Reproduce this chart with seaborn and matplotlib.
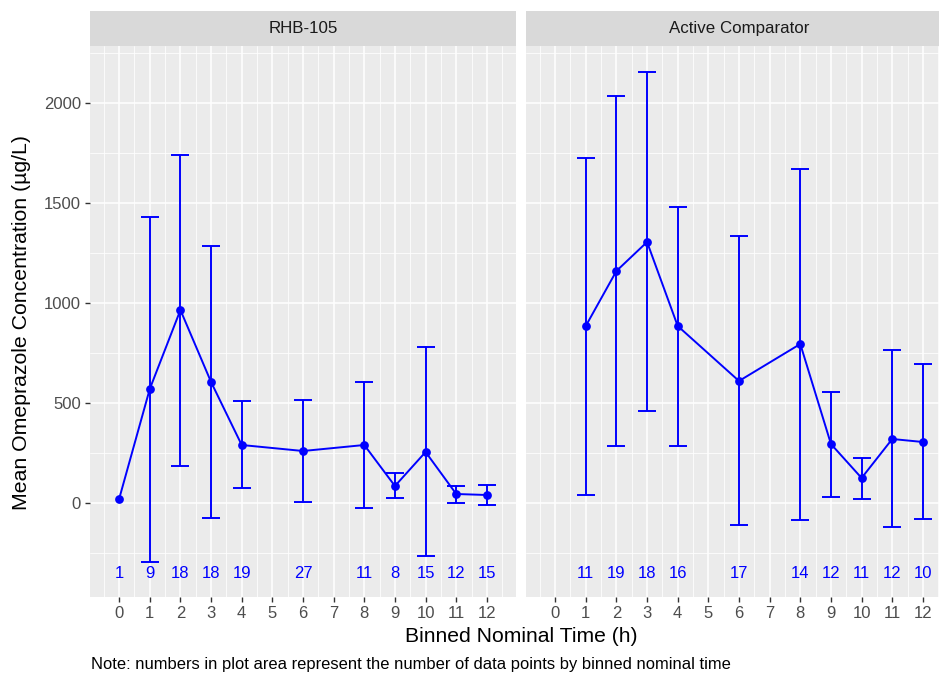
import matplotlib
matplotlib.use("Agg")
import numpy as np
import pandas as pd
import matplotlib.pyplot as plt
from matplotlib.patches import Rectangle
import seaborn as sns

sns.set_theme(style="darkgrid")
plt.rcParams['font.family'] = ['Liberation Sans', 'DejaVu Sans']

## Data ##
panels = ["RHB-105", "Active Comparator"]

time_rhb = [0, 1, 2, 3, 4, 6, 8, 9, 10, 11, 12]
mean_rhb = [20, 570, 965, 605, 290, 260, 290, 85, 255, 45, 40]
upper_rhb = [np.nan, 1430, 1740, 1285, 510, 515, 605, 150, 780, 85, 90]
lower_rhb = [np.nan, -295, 185, -75, 75, 5, -25, 25, -265, 0, -10]
n_rhb = [1, 9, 18, 18, 19, 27, 11, 8, 15, 12, 15]

time_ac = [1, 2, 3, 4, 6, 8, 9, 10, 11, 12]
mean_ac = [885, 1160, 1305, 885, 610, 795, 295, 125, 320, 305]
upper_ac = [1725, 2035, 2155, 1480, 1335, 1670, 555, 225, 765, 695]
lower_ac = [40, 285, 460, 285, -110, -85, 30, 20, -120, -80]
n_ac = [11, 19, 18, 16, 17, 14, 12, 11, 12, 10]

x_ticks = list(range(0, 13))
y_ticks = [0, 500, 1000, 1500, 2000]

df = pd.concat([
    pd.DataFrame({"time": time_rhb, "mean": mean_rhb, "upper": upper_rhb,
                  "lower": lower_rhb, "n": n_rhb, "treatment": panels[0]}),
    pd.DataFrame({"time": time_ac, "mean": mean_ac, "upper": upper_ac,
                  "lower": lower_ac, "n": n_ac, "treatment": panels[1]}),
], ignore_index=True)

blue = "#0000FF"
n_label_y = -350

g = sns.FacetGrid(df, col="treatment", col_order=panels, sharex=True, sharey=True)
g.map_dataframe(sns.lineplot, x="time", y="mean", color=blue, marker="o",
                markersize=6.3, markeredgewidth=0, linewidth=1.4)
g.set_titles("")

fig = g.figure
fig.set_size_inches(9.39, 6.75)
fig.set_dpi(100)

W, H = 939.0, 675.0
panel_w = 426.0
left_px = [90.0, 526.0]
top_px, bot_px = 46.0, 597.0
strip_h = 35.0

for i, (ax, name) in enumerate(zip(g.axes.flat, panels)):
    sub = df[df["treatment"] == name]
    ax.set_position([left_px[i] / W, 1 - bot_px / H, panel_w / W, (bot_px - top_px) / H])
    yerr = np.vstack([sub["mean"] - sub["lower"], sub["upper"] - sub["mean"]])
    ok = ~np.isnan(sub["upper"].values)
    ax.errorbar(sub["time"][ok], sub["mean"][ok], yerr=yerr[:, ok], fmt="none",
                ecolor=blue, elinewidth=1.4, capsize=6.8, capthick=1.4)
    for t, n in zip(sub["time"], sub["n"]):
        ax.text(t, n_label_y, str(n), color=blue, fontsize=12,
                ha="center", va="center")

    ax.set_xlim(-0.95, 12.95)
    ax.set_ylim(-470, 2285)
    ax.set_xticks(x_ticks)
    ax.set_xticks(np.arange(-0.5, 13, 1), minor=True)
    ax.set_yticks(y_ticks)
    ax.set_yticks([-250, 250, 750, 1250, 1750, 2250], minor=True)
    ax.set_facecolor("#EBEBEB")
    ax.grid(which="major", color="white", linewidth=1.1)
    ax.grid(which="minor", color="white", linewidth=0.55)
    for s in ax.spines.values():
        s.set_visible(False)
    ax.tick_params(axis="x", which="major", bottom=True, length=3.5, width=1,
                   color="#333333", labelcolor="#4D4D4D", labelsize=12, pad=3)
    ax.tick_params(axis="y", which="major", left=(i == 0), length=3.5, width=1,
                   color="#333333", labelcolor="#4D4D4D", labelsize=12, pad=3)
    ax.tick_params(which="minor", length=0)
    ax.set_xlabel("")
    ax.set_ylabel("")

    # facet strip
    hfrac = strip_h / (bot_px - top_px)
    ax.add_patch(Rectangle((0, 1), 1, hfrac, transform=ax.transAxes,
                           facecolor="#D9D9D9", edgecolor="none", clip_on=False))
    ax.text(0.5, 1 + hfrac / 2, name, transform=ax.transAxes, ha="center",
            va="center", fontsize=12.2, color="#1A1A1A")

fig.text(521 / W, 1 - 637 / H, "Binned Nominal Time (h)", ha="center",
         va="center", fontsize=15.2, color="black")
fig.text(22 / W, 1 - 322 / H, "Mean Omeprazole Concentration (\u00b5g/L)",
         rotation=90, ha="center", va="center", fontsize=15.3, color="black")
fig.text(91 / W, 1 - 664 / H,
         "Note: numbers in plot area represent the number of data points by binned nominal time",
         ha="left", va="center", fontsize=11.9, color="black")

fig.savefig("out.png", dpi=100)
